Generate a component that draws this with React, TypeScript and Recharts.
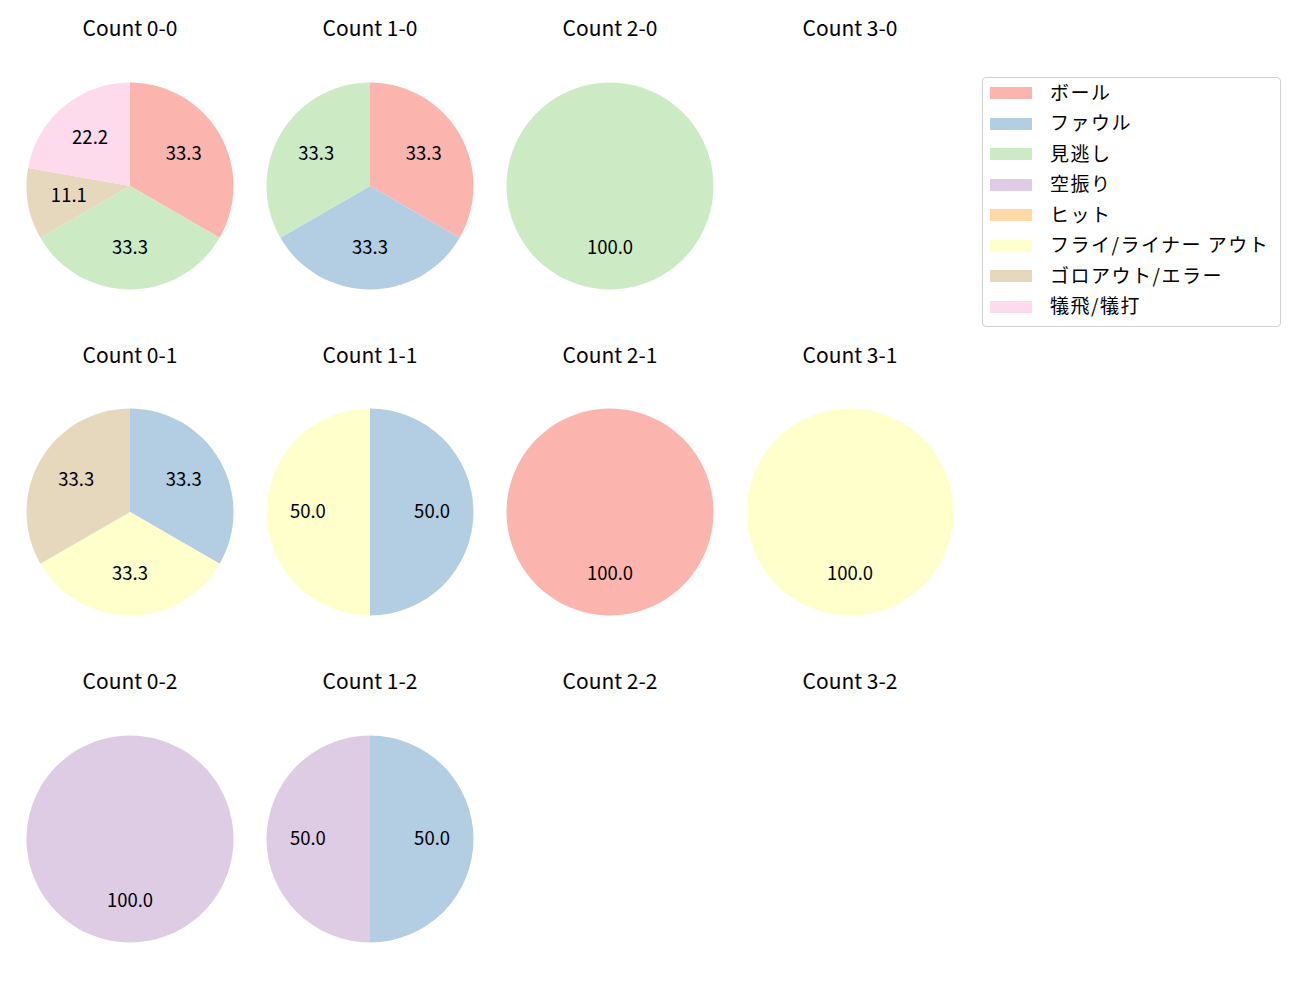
import { Pie, PieChart, Cell } from "recharts";

const categories = [
  "ボール",
  "ファウル",
  "見逃し",
  "空振り",
  "ヒット",
  "フライ/ライナー アウト",
  "ゴロアウト/エラー",
  "犠飛/犠打",
];
const colors = ["#fbb4ae", "#b3cde3", "#ccebc5", "#decbe4", "#fed9a6", "#ffffcc", "#e5d8bd", "#fddaec"];

// counts per category, in the order of `categories`
const count00 = [3, 0, 3, 0, 0, 0, 1, 2];
const count10 = [1, 1, 1, 0, 0, 0, 0, 0];
const count20 = [0, 0, 1, 0, 0, 0, 0, 0];
const count30: number[] = [];
const count01 = [0, 1, 0, 0, 0, 1, 1, 0];
const count11 = [0, 1, 0, 0, 0, 1, 0, 0];
const count21 = [1, 0, 0, 0, 0, 0, 0, 0];
const count31 = [0, 0, 0, 0, 0, 1, 0, 0];
const count02 = [0, 0, 0, 1, 0, 0, 0, 0];
const count12 = [0, 1, 0, 1, 0, 0, 0, 0];
const count22: number[] = [];
const count32: number[] = [];

const panels = [
  { title: "Count 0-0", counts: count00 },
  { title: "Count 1-0", counts: count10 },
  { title: "Count 2-0", counts: count20 },
  { title: "Count 3-0", counts: count30 },
  { title: "Count 0-1", counts: count01 },
  { title: "Count 1-1", counts: count11 },
  { title: "Count 2-1", counts: count21 },
  { title: "Count 3-1", counts: count31 },
  { title: "Count 0-2", counts: count02 },
  { title: "Count 1-2", counts: count12 },
  { title: "Count 2-2", counts: count22 },
  { title: "Count 3-2", counts: count32 },
];

const FONT = '"Noto Sans CJK JP", "Noto Sans", sans-serif';
const RAD = Math.PI / 180;
const R = 103.5;
const BOX = 220;

function renderLabel(p: any) {
  const r = p.outerRadius * 0.6;
  const x = p.cx + r * Math.cos(-p.midAngle * RAD);
  const y = p.cy + r * Math.sin(-p.midAngle * RAD);
  return (
    <text
      x={x}
      y={y - 2.5}
      textAnchor="middle"
      dominantBaseline="central"
      fontSize={18.5}
      fontFamily={FONT}
      fill="#000"
    >
      {(p.percent * 100).toFixed(1)}
    </text>
  );
}

function PiePanel({ title, counts, cx, cy, ty }: { title: string; counts: number[]; cx: number; cy: number; ty: number }) {
  const data = counts
    .map((v, i) => ({ name: categories[i], value: v, color: colors[i] }))
    .filter((d) => d.value > 0);
  return (
    <>
      <div
        style={{
          position: "absolute",
          left: cx - 100,
          top: ty - 17,
          width: 200,
          height: 30,
          lineHeight: "30px",
          textAlign: "center",
          fontSize: 21,
          fontFamily: FONT,
          color: "#000",
        }}
      >
        {title}
      </div>
      {data.length > 0 && (
        <div style={{ position: "absolute", left: cx - BOX / 2, top: cy - BOX / 2 }}>
          <PieChart width={BOX} height={BOX} margin={{ top: 0, right: 0, bottom: 0, left: 0 }}>
            <Pie
              data={data}
              dataKey="value"
              cx={BOX / 2}
              cy={BOX / 2}
              outerRadius={R}
              startAngle={90}
              endAngle={-270}
              stroke="none"
              label={renderLabel}
              labelLine={false}
              isAnimationActive={false}
            >
              {data.map((d) => (
                <Cell key={d.name} fill={d.color} />
              ))}
            </Pie>
          </PieChart>
        </div>
      )}
    </>
  );
}

export default function App() {
  const colX = [130, 370, 610, 850];
  const rowY = [185.5, 512, 838.5];
  const titleY = [29, 356, 682];
  return (
    <div style={{ position: "absolute", left: 0, top: 0, width: 1300, height: 1000, background: "#fff", overflow: "hidden" }}>
      {panels.map((p, i) => (
        <PiePanel
          key={p.title}
          title={p.title}
          counts={p.counts}
          cx={colX[i % 4]}
          cy={rowY[Math.floor(i / 4)]}
          ty={titleY[Math.floor(i / 4)]}
        />
      ))}
      <div
        style={{
          position: "absolute",
          left: 982,
          top: 77,
          width: 297,
          height: 248,
          border: "1px solid #d0d0d0",
          borderRadius: 4,
          fontFamily: FONT,
          fontSize: 19,
          letterSpacing: 1.5,
          color: "#000",
        }}
      >
        {categories.map((c, i) => (
          <div
            key={c}
            style={{ position: "absolute", left: 0, top: 0 + i * 30.57, height: 30, display: "flex", alignItems: "center" }}
          >
            <div style={{ marginLeft: 7, width: 42, height: 12, background: colors[i] }} />
            <span style={{ marginLeft: 18, whiteSpace: "nowrap", position: "relative", top: -2 }}>{c}</span>
          </div>
        ))}
      </div>
    </div>
  );
}
